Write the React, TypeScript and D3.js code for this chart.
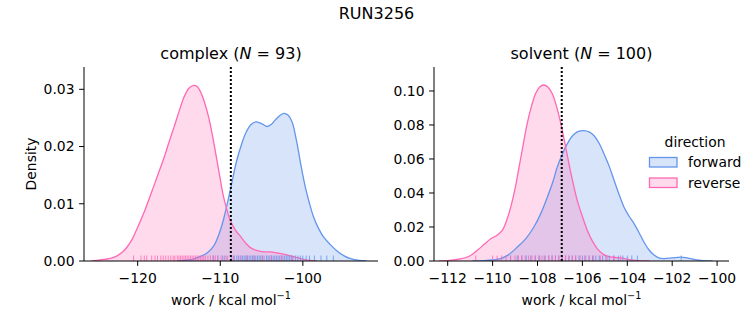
import React from "react";
import * as d3 from "d3";

const SUPTITLE = "RUN3256";
const PHASES = ["complex", "solvent"];
const COUNTS = [93, 100];
const DIRECTIONS = ["forward", "reverse"];
const COLORS = ["#6495ED", "#FF69B4"];
const DASHED_X = [-108.72, -106.92];

const X_TICKS_COMPLEX = [-120, -110, -100];
const Y_TICKS_COMPLEX = [0, 0.01, 0.02, 0.03];
const X_TICKS_SOLVENT = [-112, -110, -108, -106, -104, -102, -100];
const Y_TICKS_SOLVENT = [0, 0.02, 0.04, 0.06, 0.08, 0.1];
const X_DOMAINS = [[-126.5, -90.9], [-112.61, -99.47]];
const Y_DOMAINS = [[0, 0.0339], [0, 0.1141]];

// KDE curves: [work, density]
const complexForward: [number, number][] = [
  [-115.2, 0], [-114.4, 0.0001], [-113.4, 0.0003], [-112.4, 0.0008], [-111.6, 0.0014], [-110.8, 0.0026],
  [-110.2, 0.0045], [-109.6, 0.0073], [-108.8, 0.0123], [-108.0, 0.0176], [-107.4, 0.0205],
  [-106.9, 0.0224], [-106.3, 0.0238], [-105.7, 0.0243], [-105.0, 0.024], [-104.3, 0.0235],
  [-103.8, 0.0239], [-103.3, 0.0247], [-102.7, 0.0255], [-102.3, 0.0258], [-101.8, 0.0255],
  [-101.3, 0.0243], [-100.7, 0.0205], [-100.2, 0.0165], [-99.7, 0.0129], [-99.2, 0.0101],
  [-98.7, 0.0077], [-98.1, 0.0057], [-97.5, 0.0042], [-96.7, 0.0029], [-95.9, 0.0018],
  [-95.0, 0.0009], [-94.2, 0.0004], [-93.2, 0.0001], [-92.3, 0],
];
const complexReverse: [number, number][] = [
  [-125.6, 0], [-124.9, 0.0001], [-124.0, 0.0003], [-123.2, 0.0005], [-122.5, 0.0009], [-121.8, 0.0016], [-121.3, 0.0024],
  [-120.6, 0.004], [-120.0, 0.0059], [-119.2, 0.0086], [-118.4, 0.0117], [-117.6, 0.0149], [-116.8, 0.0181],
  [-116.2, 0.0208], [-115.6, 0.0234], [-115.0, 0.0261], [-114.4, 0.0286], [-113.8, 0.0302],
  [-113.2, 0.0307], [-112.8, 0.0305], [-112.4, 0.0296], [-111.9, 0.0277], [-111.4, 0.0251],
  [-110.9, 0.0216], [-110.4, 0.0176], [-110.0, 0.0143], [-109.6, 0.0112], [-109.2, 0.009],
  [-108.8, 0.0071], [-108.2, 0.0055], [-107.5, 0.0042], [-106.9, 0.0031], [-106.3, 0.0023],
  [-105.5, 0.0018], [-104.7, 0.0016], [-103.9, 0.0016], [-103.1, 0.0014], [-102.3, 0.0012],
  [-101.5, 0.0009], [-100.7, 0.0006], [-99.9, 0.0003], [-99.1, 0.0001], [-98.3, 0],
];
const solventForward: [number, number][] = [
  [-110.9, 0], [-110.38, 0.0002], [-110.0, 0.0006], [-109.64, 0.0014], [-109.3, 0.0036], [-108.9, 0.0082],
  [-108.5, 0.0135], [-108.16, 0.02], [-107.85, 0.028], [-107.56, 0.0376], [-107.3, 0.0472],
  [-107.12, 0.0553], [-106.9, 0.0627], [-106.67, 0.069], [-106.45, 0.0735], [-106.23, 0.0759],
  [-105.93, 0.0767], [-105.7, 0.0759], [-105.48, 0.0737], [-105.26, 0.0694], [-105.04, 0.0631],
  [-104.8, 0.0555], [-104.59, 0.0475], [-104.37, 0.0393], [-104.15, 0.0318], [-103.93, 0.0266],
  [-103.7, 0.022], [-103.48, 0.0168], [-103.26, 0.0112], [-103.04, 0.0066], [-102.81, 0.0035],
  [-102.6, 0.0019], [-102.37, 0.0014], [-102.0, 0.0018], [-101.62, 0.0023], [-101.25, 0.0016],
  [-100.9, 0.0007], [-100.6, 0.0002], [-100.2, 0],
];
const solventReverse: [number, number][] = [
  [-112.4, 0], [-111.9, 0.0004], [-111.42, 0.0012], [-111.0, 0.0031], [-110.68, 0.0063], [-110.35, 0.0101],
  [-110.08, 0.0131], [-109.8, 0.0152], [-109.57, 0.018], [-109.38, 0.0237], [-109.19, 0.0318],
  [-109.0, 0.0425], [-108.82, 0.0553], [-108.64, 0.0683], [-108.46, 0.0808], [-108.27, 0.0909],
  [-108.09, 0.0984], [-107.9, 0.1023], [-107.72, 0.1035], [-107.53, 0.1022], [-107.34, 0.0984],
  [-107.15, 0.0908], [-106.96, 0.0808], [-106.78, 0.0693], [-106.6, 0.0573], [-106.42, 0.0462],
  [-106.23, 0.0357], [-106.0, 0.0262], [-105.78, 0.018], [-105.56, 0.0118], [-105.34, 0.0073],
  [-105.1, 0.0042], [-104.89, 0.0028], [-104.6, 0.0022], [-104.29, 0.0018], [-103.85, 0.0007],
  [-103.4, 0.0001], [-103.0, 0],
];

// Rug samples
const complexForwardRug = [
  -110.8, -110.3, -109.7, -109.3, -108.6, -108.3, -108.0, -107.8, -107.5, -107.3, -107.1, -106.9,
  -106.7, -106.5, -106.3, -106.1, -105.9, -105.7, -105.5, -105.3, -105.1, -104.9, -104.7, -104.4,
  -104.2, -104.0, -103.8, -103.6, -103.4, -103.2, -103.0, -102.8, -102.6, -102.4, -102.2, -102.0,
  -101.8, -101.6, -101.4, -101.2, -100.9, -100.6, -100.3, -100.0, -99.6, -99.2, -98.6, -97.8, -97.1, -96.3,
];
const complexReverseRug = [
  -120.5, -119.6, -119.2, -118.9, -118.3, -117.9, -117.6, -117.2, -116.9, -116.6, -116.3, -116.0,
  -115.7, -115.5, -115.2, -115.0, -114.8, -114.6, -114.4, -114.2, -114.0, -113.8, -113.6, -113.4,
  -113.2, -113.0, -112.8, -112.6, -112.4, -112.2, -112.0, -111.8, -111.5, -111.2, -110.9, -110.6,
  -110.3, -109.9, -109.5, -109.1, -108.4, -107.6, -106.8, -105.9, -104.9, -103.8, -102.6, -101.3,
];
const solventForwardRug = [
  -109.2, -108.9, -108.7, -108.5, -108.3, -108.1, -107.9, -107.7, -107.5, -107.35, -107.2, -107.05,
  -106.9, -106.75, -106.6, -106.45, -106.3, -106.15, -106.0, -105.85, -105.7, -105.55, -105.4,
  -105.25, -105.1, -104.95, -104.8, -104.6, -104.4, -104.2, -104.0, -103.8, -103.55, -101.6,
];
const solventReverseRug = [
  -110.75, -110.0, -109.8, -109.6, -109.4, -109.2, -109.0, -108.85, -108.7, -108.55, -108.4, -108.25,
  -108.1, -107.95, -107.8, -107.65, -107.5, -107.35, -107.2, -107.05, -106.9, -106.75, -106.6,
  -106.45, -106.3, -106.1, -105.9, -105.7, -105.5, -105.2, -104.9, -104.6, -104.3,
];

const FONT = "DejaVu Sans, sans-serif";
const minus = (s: string) => s.replace("-", "\u2212");

const PANELS = [
  { x0: 84, x1: 378 },
  { x0: 434, x1: 729 },
];
const Y0 = 67;
const Y1 = 261;

function Panel({ idx }: { idx: number }) {
  const { x0, x1 } = PANELS[idx];
  const x = d3.scaleLinear().domain(X_DOMAINS[idx]).range([x0, x1]);
  const y = d3.scaleLinear().domain(Y_DOMAINS[idx]).range([Y1, Y0]);
  const curves = idx === 0 ? [complexForward, complexReverse] : [solventForward, solventReverse];
  const rugs = idx === 0 ? [complexForwardRug, complexReverseRug] : [solventForwardRug, solventReverseRug];
  const xTicks = idx === 0 ? X_TICKS_COMPLEX : X_TICKS_SOLVENT;
  const yTicks = idx === 0 ? Y_TICKS_COMPLEX : Y_TICKS_SOLVENT;
  const yFmt = d3.format(".2f");
  const area = d3.area<[number, number]>().x((d) => x(d[0])).y0(Y1).y1((d) => y(d[1])).curve(d3.curveCatmullRom);
  const line = d3.line<[number, number]>().x((d) => x(d[0])).y((d) => y(d[1])).curve(d3.curveCatmullRom);
  const cx = (x0 + x1) / 2;
  return (
    <g>
      <defs>
        <clipPath id={`clip${idx}`}>
          <rect x={x0} y={Y0} width={x1 - x0} height={Y1 - Y0} />
        </clipPath>
      </defs>
      <g clipPath={`url(#clip${idx})`}>
        {curves.map((c, i) => (
          <path key={"a" + i} d={area(c) || ""} fill={COLORS[i]} fillOpacity={0.25} stroke="none" />
        ))}
        {curves.map((c, i) => (
          <path key={"l" + i} d={line(c) || ""} fill="none" stroke={COLORS[i]} strokeWidth={1.3} />
        ))}
        {rugs.map((r, i) =>
          r.map((v, j) => (
            <line key={`r${i}-${j}`} x1={x(v)} x2={x(v)} y1={Y1} y2={Y1 - 5.5} stroke={COLORS[i]} strokeWidth={1} strokeOpacity={0.8} />
          ))
        )}
        <line x1={x(DASHED_X[idx])} x2={x(DASHED_X[idx])} y1={Y0} y2={Y1} stroke="#000" strokeWidth={2} strokeDasharray="2,2" />
      </g>
      <line x1={x0} x2={x0} y1={Y0} y2={Y1} stroke="#000" strokeWidth={1} />
      <line x1={x0} x2={x1} y1={Y1} y2={Y1} stroke="#000" strokeWidth={1} />
      {xTicks.map((t) => (
        <g key={"xt" + t}>
          <line x1={x(t)} x2={x(t)} y1={Y1} y2={Y1 + 4.9} stroke="#000" strokeWidth={1} />
          <text x={x(t)} y={Y1 + 22} textAnchor="middle" fontSize={13.9} fontFamily={FONT}>{minus(String(t))}</text>
        </g>
      ))}
      {yTicks.map((t) => (
        <g key={"yt" + t}>
          <line x1={x0} x2={x0 - 4.9} y1={y(t)} y2={y(t)} stroke="#000" strokeWidth={1} />
          <text x={x0 - 9.5} y={y(t)} dy="0.35em" textAnchor="end" fontSize={13.9} fontFamily={FONT}>{yFmt(t)}</text>
        </g>
      ))}
      <text x={cx} y={Y0 - 8} textAnchor="middle" fontSize={16} fontFamily={FONT}>
        {PHASES[idx]} (<tspan fontStyle="italic">N</tspan> = {COUNTS[idx]})
      </text>
      <text x={cx} y={305} textAnchor="middle" fontSize={13.9} fontFamily={FONT}>
        work / kcal mol<tspan dy={-6} fontSize={9.7}>{"\u22121"}</tspan>
      </text>
      {idx === 0 && (
        <text transform={`translate(36,164) rotate(-90)`} textAnchor="middle" fontSize={13.9} fontFamily={FONT}>Density</text>
      )}
    </g>
  );
}

export default function App() {
  return (
    <svg width={753} height={325} style={{ position: "absolute", left: 0, top: 0, background: "#fff" }}>
      <rect width={753} height={325} fill="#fff" />
      <text x={376.5} y={19} textAnchor="middle" fontSize={16} fontFamily={FONT}>{SUPTITLE}</text>
      <Panel idx={0} />
      <Panel idx={1} />
      <g fontFamily={FONT} fontSize={13.9}>
        <text x={695} y={147} textAnchor="middle">direction</text>
        {DIRECTIONS.map((d, i) => (
          <g key={d}>
            <rect x={649.5} y={157.5 + i * 20.5} width={27.5} height={9.5} fill={COLORS[i]} fillOpacity={0.25} stroke={COLORS[i]} strokeWidth={1.3} />
            <text x={688} y={167 + i * 20.5}>{d}</text>
          </g>
        ))}
      </g>
    </svg>
  );
}
